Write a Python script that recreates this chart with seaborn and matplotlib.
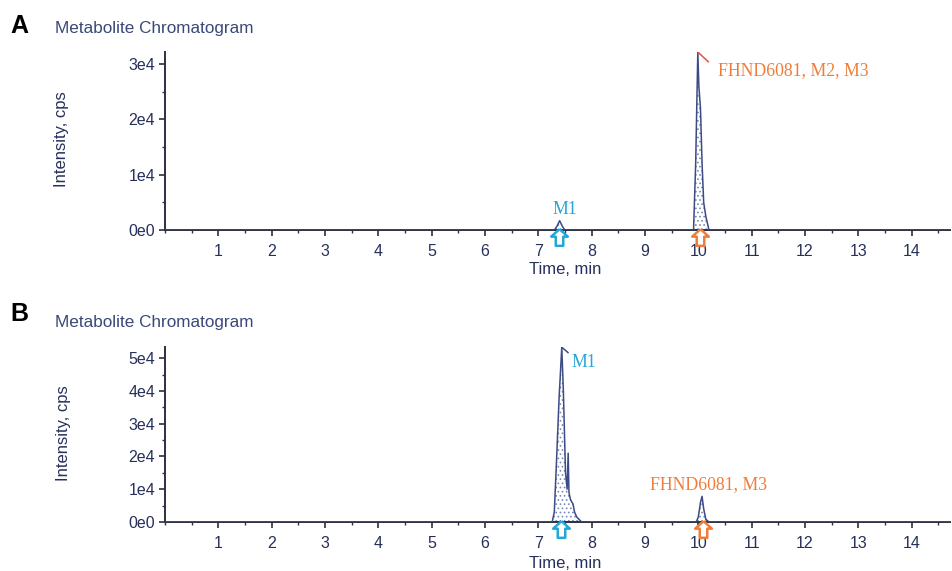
import numpy as np
import pandas as pd
import matplotlib
matplotlib.use("Agg")
import matplotlib.pyplot as plt
import seaborn as sns
from matplotlib.path import Path
from matplotlib.ticker import MultipleLocator, FuncFormatter

# Panel A trace (time in min, intensity in cps)
time_a = [0.0, 7.30, 7.35, 7.40, 7.45, 7.50, 9.91, 9.95, 9.99, 10.01, 10.04,
          10.07, 10.10, 10.14, 10.20, 14.72]
inten_a = [0, 0, 700, 1700, 700, 0, 0, 12000, 32200, 26000, 22000,
           12000, 5000, 2500, 0, 0]

# Panel B trace
time_b = [0.0, 7.26, 7.30, 7.34, 7.39, 7.44, 7.47, 7.51, 7.54, 7.56, 7.575,
          7.60, 7.63, 7.65, 7.68, 7.72, 7.81, 9.96, 10.00, 10.04, 10.07,
          10.10, 10.14, 10.20, 14.72]
inten_b = [0, 0, 3000, 18000, 38000, 53400, 40000, 15000, 10000, 21000, 9000,
           7000, 6000, 5500, 3000, 1500, 0, 0, 1500, 6000, 7800,
           4000, 800, 0, 0]

# peak labels: (text, time, intensity, colour key, alignment)
labels_a = [("M1", 7.50, 3700, "m1", "center"),
            ("FHND6081, M2, M3", 10.36, 28900, "parent", "left")]
labels_b = [("M1", 7.63, 48800, "m1", "left"),
            ("FHND6081, M3", 9.10, 11300, "parent", "left")]

# retention-time markers under the axis
marks_a = [(7.39, "m1"), (10.03, "parent")]
marks_b = [(7.42, "m1"), (10.08, "parent")]

# apex flags
apex_a = ([10.0, 10.19], [32100, 30400])
apex_b = ([7.44, 7.56], [53400, 51700])

colours = {"m1": "#25a6d8", "parent": "#ef7d3a"}
trace_col = "#3d4b84"
text_col = "#26305a"

sns.set_style("ticks")
plt.rcParams["font.family"] = ["Liberation Sans", "DejaVu Sans"]
plt.rcParams["hatch.linewidth"] = 0.7

fig = plt.figure(figsize=(9.53, 5.71), dpi=100)
ax_a = fig.add_axes([0.173, 0.597, 0.824, 0.312])
ax_b = fig.add_axes([0.173, 0.086, 0.824, 0.306])

arrow = Path([(0, 1), (-1, 0.1), (-0.45, 0.1), (-0.45, -1), (0.45, -1),
              (0.45, 0.1), (1, 0.1), (0, 1)])


def fmt_y(v, pos):
    if v == 0:
        return "0e0"
    return f"{int(round(v / 1e4))}e4"


def draw(ax, t, y, labels, marks, apex, apex_col):
    df = pd.DataFrame({"time": t, "intensity": y})
    ax.fill_between(df["time"], 0, df["intensity"], facecolor="white",
                    edgecolor="#7b88b4", hatch="....", linewidth=0, zorder=1)
    sns.lineplot(data=df, x="time", y="intensity", ax=ax, estimator=None,
                 sort=False, color=trace_col, lw=1.1, zorder=3)
    ax.plot(apex[0], apex[1], color=apex_col, lw=1.1, zorder=4)
    for txt, tx, ty, key, ha in labels:
        ax.text(tx, ty, txt, color=colours[key], fontsize=12.8,
                family=["Liberation Serif", "DejaVu Serif"], va="center", ha=ha)
    for tx, key in marks:
        ax.plot([tx], [-0.04], transform=ax.get_xaxis_transform(), clip_on=False,
                marker=arrow, ms=12, mfc="white", mec=colours[key], mew=1.8,
                ls="none", zorder=5)
    ax.set_xlim(0, 14.72)
    ax.set_ylim(0, max(y))
    ax.xaxis.set_minor_locator(MultipleLocator(0.5))
    ax.yaxis.set_major_locator(MultipleLocator(10000))
    ax.yaxis.set_minor_locator(MultipleLocator(5000))
    ax.yaxis.set_major_formatter(FuncFormatter(fmt_y))
    ax.set_xticks([i for i in range(1, 15)])
    ax.tick_params(axis="both", which="major", length=4, width=1.2,
                   colors="#2b2f40", labelcolor=text_col, labelsize=11.5, pad=3)
    ax.tick_params(axis="both", which="minor", length=2.5, width=1.0, colors="#2b2f40")
    ax.tick_params(axis="x", which="major", pad=6)
    for s in ["top", "right"]:
        ax.spines[s].set_visible(False)
    for s in ["left", "bottom"]:
        ax.spines[s].set_color("#2b2f40")
        ax.spines[s].set_linewidth(1.4)
    ax.set_xlabel("")
    ax.set_ylabel("")


draw(ax_a, time_a, inten_a, labels_a, marks_a, apex_a, "#e0553e")
draw(ax_b, time_b, inten_b, labels_b, marks_b, apex_b, trace_col)

W, H = 953, 571
fig.text(55 / W, 1 - 28 / H, "Metabolite Chromatogram", fontsize=12.3,
         color="#3a4878", va="center", ha="left")
fig.text(55 / W, 1 - 322 / H, "Metabolite Chromatogram", fontsize=12.3,
         color="#3a4878", va="center", ha="left")
fig.text(10 / W, 1 - 26 / H, "A", fontsize=18, fontweight="bold", color="black",
         va="center", ha="left")
fig.text(10 / W, 1 - 314 / H, "B", fontsize=18, fontweight="bold", color="black",
         va="center", ha="left")
fig.text(62 / W, 1 - 139 / H, "Intensity, cps", fontsize=12, color=text_col,
         rotation=90, va="center", ha="center")
fig.text(64 / W, 1 - 433 / H, "Intensity, cps", fontsize=12, color=text_col,
         rotation=90, va="center", ha="center")
fig.text(565 / W, 1 - 270 / H, "Time, min", fontsize=12, color=text_col,
         va="center", ha="center")
fig.text(565 / W, 1 - 563 / H, "Time, min", fontsize=12, color=text_col,
         va="center", ha="center")

fig.savefig("out.png", dpi=100)
